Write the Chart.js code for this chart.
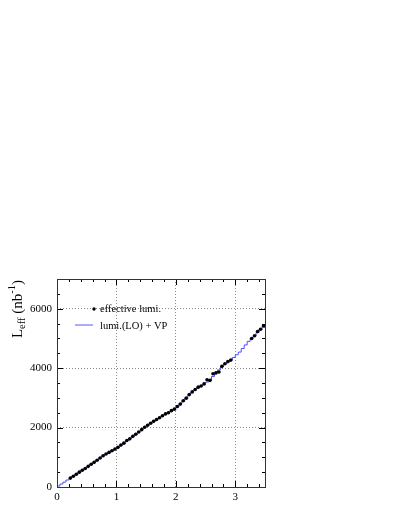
<!DOCTYPE html>
<html>
<head>
<meta charset="utf-8">
<script src="https://cdn.jsdelivr.net/npm/chart.js@4"></script>
<style>
  html, body { margin: 0; padding: 0; background: #fff; }
  #wrap { width: 409px; height: 529px; }
</style>
</head>
<body>
<div id="wrap"><canvas id="lumi"></canvas></div>
<script>
// histogram bins (width 0.05, starting at 0)
const binStart = 0;
const binWidth = 0.05;

// lumi.(LO) + VP, one value per bin
const lineVals = [
  35, 100, 165, 235, 300, 365, 430, 495, 560, 625,
  690, 760, 835, 905, 970, 1040, 1110, 1160, 1215, 1270,
  1330, 1400, 1470, 1560, 1625, 1700, 1770, 1845, 1925, 2000,
  2080, 2140, 2200, 2265, 2330, 2395, 2455, 2510, 2560, 2610,
  2700, 2800, 2900, 3000, 3100, 3190, 3270, 3340, 3400, 3460,
  3530, 3610, 3720, 3840, 3940, 4050, 4130, 4200, 4270, 4360,
  4450, 4540, 4660, 4780, 4900, 4990, 5090, 5200, 5300, 5400
];

// effective lumi., same bins (null = no point)
const pointVals = [
  null, null, null, null, 300, 360, 430, 500, 565, 625,
  695, 765, 830, 900, 975, 1050, 1110, 1165, 1220, 1275,
  1335, 1410, 1475, 1565, 1620, 1705, 1775, 1850, 1930, 2010,
  2080, 2145, 2210, 2270, 2330, 2400, 2460, 2500, 2570, 2620,
  2710, 2790, 2905, 2990, 3110, 3200, 3280, 3360, 3400, 3470,
  3610, 3590, 3810, 3840, 3870, 4060, 4150, 4220, 4270, null,
  null, null, null, null, null, 5000, 5090, 5230, 5310, 5420
];

const xTicks = [0, 1, 2, 3];
const yTicks = [0, 2000, 4000, 6000];
const xRange = [0, 3.5];
const yRange = [0, 7000];

const serif = "'Liberation Serif', 'DejaVu Serif', serif";

const lineData = [{ x: binStart, y: 0 }].concat(
  lineVals.map((v, i) => ({ x: binStart + (i + 1) * binWidth, y: v }))
);
const pointData = [];
pointVals.forEach((v, i) => {
  if (v !== null) pointData.push({ x: binStart + (i + 0.5) * binWidth, y: v });
});

// frame, inner ticks, legend and y title in ROOT style
const rootStyle = {
  id: "rootStyle",
  afterDraw(chart) {
    const ctx = chart.ctx;
    const a = chart.chartArea;
    const xs = chart.scales.x, ys = chart.scales.y;
    ctx.save();
    ctx.strokeStyle = "#000";
    ctx.lineWidth = 1;

    // x ticks, bottom and top
    ctx.beginPath();
    for (let v = 0; v <= xRange[1] + 1e-9; v += 0.2) {
      const px = Math.round(xs.getPixelForValue(v)) + 0.5;
      const len = Math.abs(v - Math.round(v)) < 1e-6 ? 6 : 3;
      ctx.moveTo(px, a.bottom); ctx.lineTo(px, a.bottom - len);
      ctx.moveTo(px, a.top); ctx.lineTo(px, a.top + len);
    }
    // y ticks, left and right
    for (let v = 0; v <= yRange[1]; v += 500) {
      const py = Math.round(ys.getPixelForValue(v)) + 0.5;
      const len = v % 2000 === 0 ? 6 : 3;
      ctx.moveTo(a.left, py); ctx.lineTo(a.left + len, py);
      ctx.moveTo(a.right, py); ctx.lineTo(a.right - len, py);
    }
    ctx.stroke();

    // frame
    ctx.strokeStyle = "#333";
    ctx.strokeRect(a.left + 0.5, a.top + 0.5, a.right - a.left, a.bottom - a.top);

    // legend
    ctx.fillStyle = "#000";
    ctx.font = "10.5px " + serif;
    ctx.textBaseline = "middle";
    ctx.beginPath();
    ctx.arc(94, 309, 1.7, 0, Math.PI * 2);
    ctx.fill();
    ctx.fillText("effective lumi.", 100, 309.5);
    ctx.strokeStyle = "#5a5aff";
    ctx.beginPath();
    ctx.moveTo(75, 325); ctx.lineTo(93, 325);
    ctx.stroke();
    ctx.fillText("lumi.(LO) + VP", 100, 326);

    // y title  L_eff (nb^-1)
    ctx.translate(22, a.top + 1);
    ctx.rotate(-Math.PI / 2);
    ctx.textBaseline = "alphabetic";
    const big = "15px " + serif, small = "10.5px " + serif;
    const parts = [
      ["L", big, 0], ["eff", small, 3], [" (nb", big, 0], ["-1", small, -7], [")", big, 0]
    ];
    let w = 0;
    parts.forEach(p => { ctx.font = p[1]; w += ctx.measureText(p[0]).width; });
    let x = -w;
    parts.forEach(p => {
      ctx.font = p[1];
      ctx.fillText(p[0], x, p[2]);
      x += ctx.measureText(p[0]).width;
    });
    ctx.restore();
  }
};

new Chart(document.getElementById("lumi"), {
  type: "scatter",
  data: {
    datasets: [
      {
        label: "effective lumi.",
        data: pointData,
        showLine: false,
        pointRadius: 1.8,
        pointBackgroundColor: "#000",
        pointBorderWidth: 0,
        order: 0
      },
      {
        label: "lumi.(LO) + VP",
        data: lineData,
        showLine: true,
        stepped: "after",
        borderColor: "#5050ff",
        borderWidth: 1,
        pointRadius: 0,
        order: 1
      }
    ]
  },
  options: {
    responsive: true,
    maintainAspectRatio: false,
    animation: false,
    layout: { padding: { left: 0, top: 279, right: 144, bottom: 0 } },
    plugins: { legend: { display: false }, tooltip: { enabled: false } },
    scales: {
      x: {
        type: "linear",
        min: xRange[0],
        max: xRange[1],
        afterBuildTicks: s => { s.ticks = xTicks.map(v => ({ value: v })); },
        afterFit: s => { s.height = 42; },
        border: { display: false, dash: [1, 2] },
        grid: { drawTicks: false, color: "#8a8a8a", lineWidth: 1 },
        ticks: {
          color: "#000", font: { family: serif, size: 11 }, padding: 4, maxRotation: 0,
          callback: v => String(v)
        }
      },
      y: {
        type: "linear",
        min: yRange[0],
        max: yRange[1],
        afterBuildTicks: s => { s.ticks = yTicks.map(v => ({ value: v })); },
        afterFit: s => { s.width = 57; },
        border: { display: false, dash: [1, 2] },
        grid: { drawTicks: false, color: "#8a8a8a", lineWidth: 1 },
        ticks: {
          color: "#000", font: { family: serif, size: 11 }, padding: 5,
          callback: v => String(v)
        }
      }
    }
  },
  plugins: [rootStyle]
});
</script>
</body>
</html>
